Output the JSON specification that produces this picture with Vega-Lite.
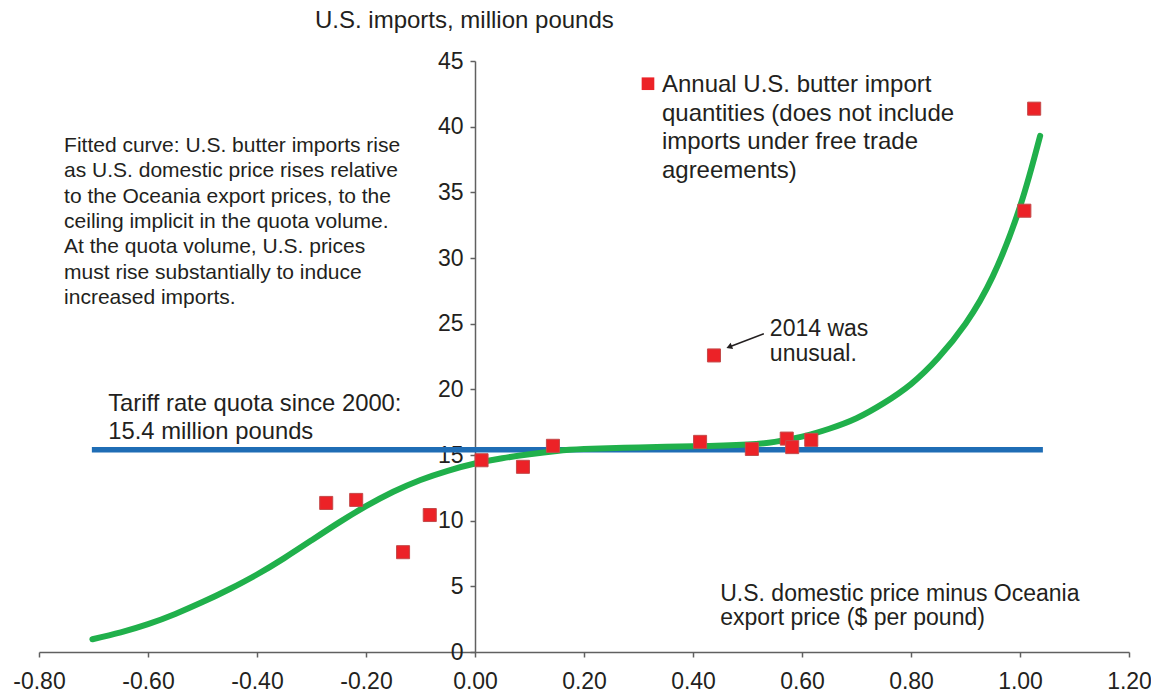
{
  "$schema": "https://vega.github.io/schema/vega-lite/v6.json",
  "width": 1090,
  "height": 591,
  "autosize": {"type": "none"},
  "padding": {"left": 39, "top": 61, "right": 22, "bottom": 42},
  "background": "white",
  "config": {"view": {"stroke": null}, "font": "Liberation Sans"},
  "datasets": {
    "points": [
      {"x": -0.273, "y": 11.35},
      {"x": -0.218, "y": 11.58},
      {"x": -0.132, "y": 7.6},
      {"x": -0.083, "y": 10.43},
      {"x": 0.012, "y": 14.6},
      {"x": 0.088, "y": 14.1},
      {"x": 0.143, "y": 15.7},
      {"x": 0.413, "y": 16.0},
      {"x": 0.4385, "y": 22.58},
      {"x": 0.508, "y": 15.46},
      {"x": 0.572, "y": 16.25},
      {"x": 0.582, "y": 15.6},
      {"x": 0.617, "y": 16.15},
      {"x": 1.008, "y": 33.6},
      {"x": 1.026, "y": 41.37}
    ],
    "curve": [
      {"x": -0.702, "y": 0.97},
      {"x": -0.65, "y": 1.5},
      {"x": -0.6, "y": 2.12},
      {"x": -0.55, "y": 2.9},
      {"x": -0.5, "y": 3.8},
      {"x": -0.45, "y": 4.8},
      {"x": -0.4, "y": 5.9},
      {"x": -0.35, "y": 7.15},
      {"x": -0.3, "y": 8.5},
      {"x": -0.25, "y": 9.85},
      {"x": -0.2, "y": 11.1},
      {"x": -0.15, "y": 12.2},
      {"x": -0.1, "y": 13.1},
      {"x": -0.05, "y": 13.8},
      {"x": 0.0, "y": 14.35},
      {"x": 0.05, "y": 14.75},
      {"x": 0.1, "y": 15.05},
      {"x": 0.15, "y": 15.3},
      {"x": 0.2, "y": 15.45},
      {"x": 0.3, "y": 15.58},
      {"x": 0.4, "y": 15.66},
      {"x": 0.5, "y": 15.8},
      {"x": 0.55, "y": 16.0},
      {"x": 0.6, "y": 16.4},
      {"x": 0.65, "y": 17.0},
      {"x": 0.7, "y": 17.8},
      {"x": 0.75, "y": 18.95},
      {"x": 0.8, "y": 20.4},
      {"x": 0.85, "y": 22.4},
      {"x": 0.9, "y": 25.0},
      {"x": 0.95, "y": 28.6},
      {"x": 1.0, "y": 33.9},
      {"x": 1.037, "y": 39.3}
    ],
    "quota": [{"x": -0.703, "x2": 1.042, "y": 15.4}],
    "arrow": [{"x": 0.53, "y": 24.23, "x2": 0.465, "y2": 23.2}],
    "arrowhead": [{"x": 0.468, "y": 23.25}],
    "legendsq": [{"x": 0.3174, "y": 43.27}]
  },
  "encoding": {
    "x": {
      "field": "x",
      "type": "quantitative",
      "scale": {"domain": [-0.8, 1.2], "nice": false, "zero": false},
      "axis": {
        "orient": "bottom",
        "title": null,
        "grid": false,
        "values": [-0.8, -0.6, -0.4, -0.2, 0, 0.2, 0.4, 0.6, 0.8, 1.0, 1.2],
        "labelExpr": "replace(format(datum.value, '.2f'), '\u2212', '-')",
        "labelFontSize": 23,
        "labelColor": "#231f20",
        "labelFont": "Liberation Sans",
        "labelPadding": 13,
        "labelFlush": false,
        "labelOverlap": false,
        "tickSize": 5,
        "tickColor": "#606060",
        "tickWidth": 1.5,
        "domainColor": "#606060",
        "domainWidth": 1.5
      }
    },
    "y": {
      "field": "y",
      "type": "quantitative",
      "scale": {"domain": [0, 45], "nice": false, "zero": false},
      "axis": {
        "orient": "left",
        "offset": -436,
        "title": null,
        "grid": false,
        "values": [0, 5, 10, 15, 20, 25, 30, 35, 40, 45],
        "labelFontSize": 23,
        "labelColor": "#231f20",
        "labelFont": "Liberation Sans",
        "labelPadding": 7,
        "labelOverlap": false,
        "labelFlush": false,
        "tickSize": 5,
        "tickColor": "#606060",
        "tickWidth": 1.5,
        "domainColor": "#606060",
        "domainWidth": 1.5
      }
    }
  },
  "layer": [
    {
      "data": {"name": "quota"},
      "mark": {"type": "rule", "color": "#1f6db5", "strokeWidth": 5.5},
      "encoding": {"x2": {"field": "x2"}}
    },
    {
      "data": {"name": "curve"},
      "mark": {"type": "line", "color": "#20b04b", "strokeWidth": 6, "interpolate": "natural", "strokeCap": "round"}
    },
    {
      "data": {"name": "points"},
      "mark": {"type": "point", "shape": "square", "filled": true, "size": 170, "fill": "#ec2227", "stroke": "#c44a4a", "strokeWidth": 1, "opacity": 1}
    },
    {
      "data": {"name": "legendsq"},
      "mark": {"type": "point", "shape": "square", "filled": true, "size": 160, "fill": "#ec2227", "opacity": 1}
    },
    {
      "data": {"name": "arrow"},
      "mark": {"type": "rule", "color": "#231f20", "strokeWidth": 1.5},
      "encoding": {"x2": {"field": "x2"}, "y2": {"field": "y2"}}
    },
    {
      "data": {"name": "arrowhead"},
      "mark": {"type": "point", "shape": "triangle", "filled": true, "size": 45, "angle": 249, "color": "#231f20", "opacity": 1}
    },
    {
      "data": {"values": [{"x": -0.2936, "y": 48.04, "t": "U.S. imports, million pounds"}]},
      "mark": {"type": "text", "align": "left", "baseline": "middle", "fontSize": 24, "color": "#231f20"},
      "encoding": {"text": {"field": "t"}}
    },
    {
      "data": {"values": [{"x": -0.754, "y": 38.54, "t": "Fitted curve: U.S. butter imports rise\nas U.S. domestic price rises relative\nto the Oceania export prices, to the\nceiling implicit in the quota volume.\nAt the quota volume, U.S. prices\nmust rise substantially to induce\nincreased imports."}]},
      "mark": {"type": "text", "align": "left", "baseline": "middle", "fontSize": 21, "lineHeight": 25.4, "lineBreak": "\n", "color": "#231f20"},
      "encoding": {"text": {"field": "t"}}
    },
    {
      "data": {"values": [{"x": 0.343, "y": 43.17, "t": "Annual U.S. butter import\nquantities (does not include\nimports under free trade\nagreements)"}]},
      "mark": {"type": "text", "align": "left", "baseline": "middle", "fontSize": 24, "lineHeight": 28.5, "lineBreak": "\n", "color": "#231f20"},
      "encoding": {"text": {"field": "t"}}
    },
    {
      "data": {"values": [{"x": -0.673, "y": 18.9, "t": "Tariff rate quota since 2000:\n15.4 million pounds"}]},
      "mark": {"type": "text", "align": "left", "baseline": "middle", "fontSize": 23.8, "lineHeight": 28.3, "lineBreak": "\n", "color": "#231f20"},
      "encoding": {"text": {"field": "t"}}
    },
    {
      "data": {"values": [{"x": 0.541, "y": 24.56, "t": "2014 was\nunusual."}]},
      "mark": {"type": "text", "align": "left", "baseline": "middle", "fontSize": 23, "lineHeight": 24.2, "lineBreak": "\n", "color": "#231f20"},
      "encoding": {"text": {"field": "t"}}
    },
    {
      "data": {"values": [{"x": 0.45, "y": 4.43, "t": "U.S. domestic price minus Oceania\nexport price ($ per pound)"}]},
      "mark": {"type": "text", "align": "left", "baseline": "middle", "fontSize": 23, "lineHeight": 24.2, "lineBreak": "\n", "color": "#231f20"},
      "encoding": {"text": {"field": "t"}}
    }
  ]
}
